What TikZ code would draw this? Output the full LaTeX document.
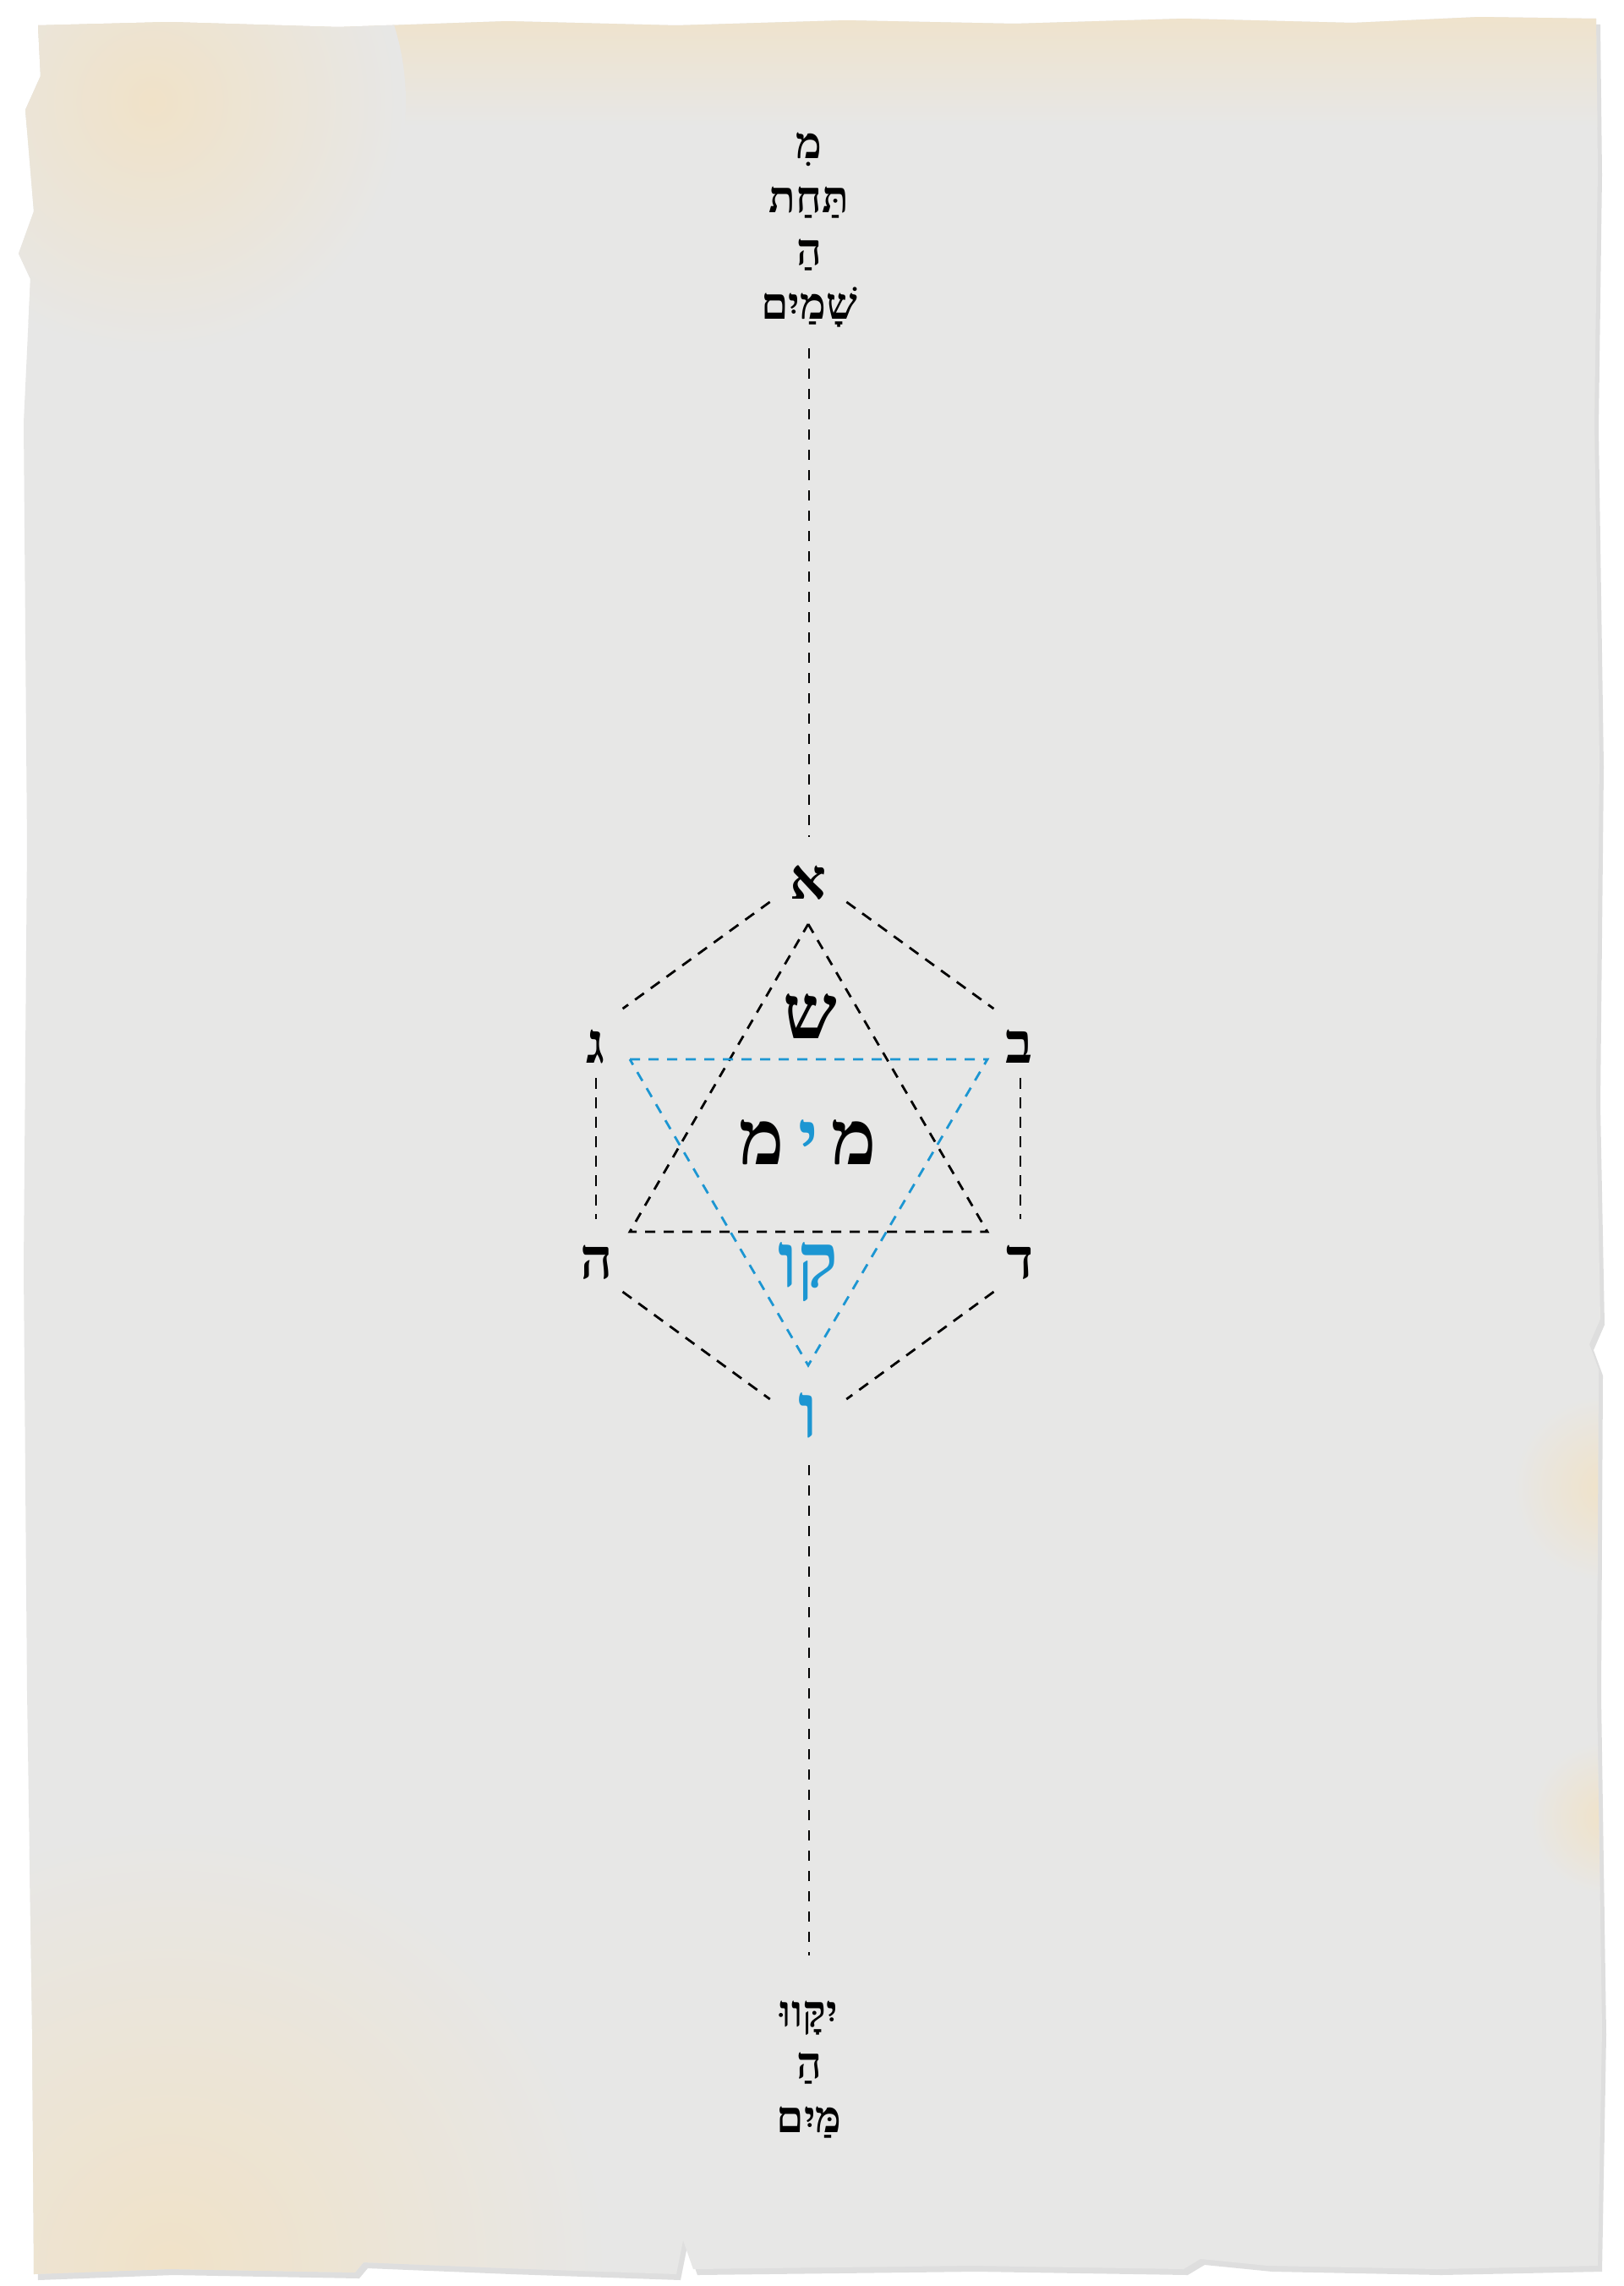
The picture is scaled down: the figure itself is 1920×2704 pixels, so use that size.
\documentclass[tikz,border=0pt]{standalone}
\usepackage{fontspec}
\newfontfamily\heb[Script=Hebrew]{Liberation Serif}
\TeXXeTstate=1
\definecolor{paper}{RGB}{231,231,230}
\definecolor{stain}{RGB}{240,226,200}
\definecolor{blu}{RGB}{28,150,210}
\begin{document}
\begin{tikzpicture}[x=1pt,y=-1pt,
  hexedge/.style={black, line width=2.8pt, dash pattern=on 13pt off 10pt},
  triedge/.style={black, line width=2.8pt, dash pattern=on 12pt off 10pt},
  bluedge/.style={blu, line width=2.8pt, dash pattern=on 12pt off 10pt},
  vline/.style={black, line width=2.8pt, dash pattern=on 12pt off 12pt},
  verse/.style={font=\heb\bfseries\fontsize{52}{52}\selectfont, inner sep=0pt, anchor=base},
  corner/.style={font=\heb\bfseries\fontsize{67}{67}\selectfont, inner sep=0pt, anchor=base},
  big/.style={font=\heb\bfseries\fontsize{90}{90}\selectfont, inner sep=0pt, anchor=base}]
\useasboundingbox (0,0) rectangle (1920,2704);
\fill[white] (0,0) rectangle (1920,2704);
\def\paperpath{(45,30) -- (200,26) -- (400,32) -- (600,25) -- (800,30) -- (1000,24) -- (1200,28) -- (1400,22) -- (1600,27) -- (1750,20) -- (1888,22) -- (1890,200) -- (1886,500) -- (1892,900) -- (1888,1300) -- (1893,1560) -- (1880,1590) -- (1891,1620) -- (1889,2000) -- (1895,2400) -- (1890,2680) -- (1700,2684) -- (1500,2680) -- (1420,2672) -- (1400,2684) -- (1150,2680) -- (820,2684) -- (808,2650) -- (800,2690) -- (600,2683) -- (430,2676) -- (420,2688) -- (200,2684) -- (40,2690) -- (38,2400) -- (32,2000) -- (28,1500) -- (32,1000) -- (28,500) -- (36,330) -- (22,300) -- (40,250) -- (30,130) -- (48,90) -- cycle}
\fill[black!25, opacity=0.5] [shift={(5,7)}] \paperpath;
\fill[paper] \paperpath;
\begin{scope}
  \clip \paperpath;
  \shade[top color=stain, bottom color=paper] (0,0) rectangle (1920,150);
  \shade[inner color=stain, outer color=paper] (180,120) circle (300);
  \shade[inner color=stain, outer color=paper] (200,2680) circle (520);
  \shade[inner color=stain, outer color=paper] (1900,1760) circle (110);
  \shade[inner color=stain, outer color=paper] (1900,2150) circle (90);
\end{scope}
% top verse
\node[verse] (t1) at (957,187) {\beginR מִ\endR};
\node[verse] (t2) at (957,251) {\beginR תַּחַת\endR};
\node[verse] (t3) at (957,313) {\beginR הַ\endR};
\node[verse] (t4) at (957,377) {\beginR שָׁמַיִם\endR};
% bottom verse
\node[verse] (b1) at (957,2397) {\beginR יִקָּווּ\endR};
\node[verse] (b2) at (957,2458) {\beginR הַ\endR};
\node[verse] (b3) at (957,2522) {\beginR מַּיִם\endR};
% vertical connectors
\coordinate (cTopS) at (957,412);
\coordinate (cTopE) at (957,990);
\coordinate (cBotS) at (957,1733);
\coordinate (cBotE) at (957,2313);
\draw[vline] (cTopS) -- (cTopE);
\draw[vline] (cBotS) -- (cBotE);
% corner letters
\node[corner] (A) at (956,1063) {א};
\node[corner] (B) at (1206,1257) {ב};
\node[corner] (G) at (705,1257) {ג};
\node[corner] (D) at (1207,1512) {ד};
\node[corner] (H) at (706,1512) {ה};
\node[big, text=blu] (V) at (956,1700) {ו};
% centre letters
\node[big] (S) at (958,1228) {ש};
\node[big] (M) at (956,1377) {מ\kern16pt{\color{blu}י}\kern16pt מ};
\node[big, text=blu] (Q) at (956,1522) {\beginR קו\endR};
% hexagon vertices
\coordinate (pA) at (956,1034);
\coordinate (pB) at (1207,1216);
\coordinate (pG) at (705,1216);
\coordinate (pD) at (1207,1505);
\coordinate (pH) at (705,1505);
\coordinate (pV) at (956,1688);
\draw[hexedge, shorten <=56pt, shorten >=39pt] (pA) -- (pG);
\draw[hexedge, shorten <=56pt, shorten >=39pt] (pA) -- (pB);
\draw[hexedge, shorten <=59pt, shorten >=63pt] (pG) -- (pH);
\draw[hexedge, shorten <=59pt, shorten >=63pt] (pB) -- (pD);
\draw[hexedge, shorten <=39pt, shorten >=56pt] (pH) -- (pV);
\draw[hexedge, shorten <=39pt, shorten >=56pt] (pD) -- (pV);
% triangles
\coordinate (tA) at (956,1093);
\coordinate (tL) at (745,1457);
\coordinate (tR) at (1168,1457);
\coordinate (uL) at (745,1253);
\coordinate (uR) at (1168,1253);
\coordinate (uV) at (956,1615);
\draw[triedge] (tA) -- (tR) -- (tL) -- cycle;
\draw[bluedge] (uL) -- (uR) -- (uV) -- cycle;
\end{tikzpicture}
\end{document}
